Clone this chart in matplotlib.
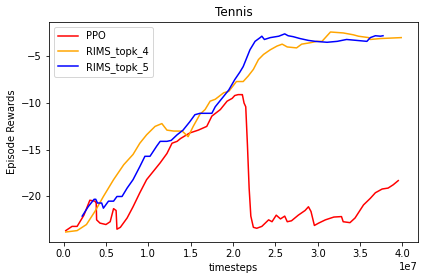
import numpy as np
import matplotlib
matplotlib.use("Agg")
import matplotlib.pyplot as plt

# timesteps in units of 1e7, rewards
ppo_x = [0.026, 0.10, 0.16, 0.24, 0.31, 0.37, 0.385, 0.39, 0.43, 0.50, 0.55, 0.59, 0.62, 0.625, 0.63,
         0.67, 0.75, 0.82, 0.90, 0.98, 1.06, 1.14, 1.22, 1.28, 1.34, 1.38, 1.49, 1.59, 1.69,
         1.75, 1.85, 1.93, 1.99, 2.02, 2.06, 2.10, 2.11, 2.13, 2.15, 2.17, 2.19, 2.21, 2.24, 2.28,
         2.34, 2.42, 2.46, 2.51, 2.56, 2.61, 2.64, 2.69, 2.77, 2.85, 2.89, 2.92, 2.96, 3.01,
         3.09, 3.19, 3.28, 3.30, 3.38, 3.44, 3.54, 3.62, 3.68, 3.76, 3.83, 3.89, 3.95]
ppo_y = [-23.65, -23.2, -23.2, -22.0, -20.4, -20.5, -20.7, -22.5, -22.85, -23.0, -22.7, -21.3, -21.5, -22.5, -23.5,
         -23.3, -22.3, -21.1, -19.6, -18.2, -17.3, -16.4, -15.4, -14.3, -14.1, -13.8, -13.2, -12.9, -12.5,
         -11.4, -10.7, -9.8, -9.5, -9.2, -9.1, -9.1, -9.1, -10.0, -10.4, -14.5, -19.1, -22.1, -23.3, -23.4,
         -23.2, -22.5, -22.7, -22.0, -22.4, -22.1, -22.7, -22.6, -22.0, -21.5, -21.1, -21.6, -23.1, -22.85,
         -22.5, -22.2, -22.15, -22.7, -22.8, -22.3, -20.9, -20.2, -19.6, -19.2, -19.1, -18.75, -18.3]

topk4_x = [0.026, 0.16, 0.27, 0.37, 0.47, 0.59, 0.71, 0.82, 0.90, 0.98, 1.08, 1.16, 1.22, 1.30,
           1.40, 1.47, 1.53, 1.61, 1.67, 1.73, 1.79, 1.89, 1.95, 2.04, 2.12, 2.18, 2.24, 2.30, 2.36,
           2.44, 2.52, 2.58, 2.64, 2.75, 2.81, 2.91, 2.99, 3.05, 3.15, 3.30, 3.42, 3.48, 3.60, 3.62,
           3.74, 3.985]
topk4_y = [-23.8, -23.65, -23.0, -21.6, -20.0, -18.2, -16.6, -15.5, -14.3, -13.4, -12.5, -12.2, -12.9, -13.0,
           -13.0, -13.6, -12.5, -11.2, -10.7, -9.8, -9.6, -8.9, -8.75, -7.7, -7.7, -7.1, -6.4, -5.35, -4.8,
           -4.3, -3.9, -3.7, -4.0, -4.1, -3.7, -3.55, -3.4, -3.4, -2.4, -2.5, -2.7, -2.85, -3.0, -3.2,
           -3.1, -3.0]

topk5_x = [0.22, 0.29, 0.36, 0.38, 0.40, 0.45, 0.47, 0.53, 0.59, 0.63, 0.69, 0.75, 0.82, 0.90,
           0.96, 1.02, 1.10, 1.14, 1.22, 1.27, 1.34, 1.41, 1.49, 1.55, 1.61, 1.69, 1.75, 1.79,
           1.87, 1.95, 2.02, 2.08, 2.12, 2.20, 2.26, 2.32, 2.34, 2.37, 2.44, 2.54, 2.61, 2.65,
           2.71, 2.79, 2.89, 2.97, 3.11, 3.23, 3.34, 3.46, 3.58, 3.62, 3.68, 3.74, 3.77]
topk5_y = [-22.1, -21.1, -20.3, -20.3, -20.7, -20.7, -21.25, -20.5, -20.5, -20.0, -20.0, -19.1, -18.2, -16.8,
           -15.7, -15.7, -14.6, -14.1, -14.1, -14.0, -13.4, -12.9, -12.0, -11.25, -11.1, -11.1, -11.1, -10.4,
           -9.5, -8.6, -7.5, -6.7, -6.1, -4.3, -3.4, -3.0, -2.85, -3.2, -3.0, -2.85, -2.6, -2.8,
           -2.9, -3.1, -3.3, -3.4, -3.5, -3.4, -3.2, -3.3, -3.4, -3.0, -2.8, -2.85, -2.8]

fig = plt.figure(figsize=(424 / 72, 280 / 72), dpi=72)
ax = fig.add_axes([49 / 424, 1 - 242 / 280, 369 / 424, 220 / 280])

ax.plot(np.array(ppo_x) * 1e7, ppo_y, color="red", label="PPO")
ax.plot(np.array(topk4_x) * 1e7, topk4_y, color="orange", label="RIMS_topk_4")
ax.plot(np.array(topk5_x) * 1e7, topk5_y, color="blue", label="RIMS_topk_5")

ax.set_yticks([-20, -15, -10, -5])
ax.set_title("Tennis")
ax.set_xlabel("timesteps")
ax.set_ylabel("Episode Rewards")
ax.legend(loc="upper left")

fig.savefig("out.png", dpi=72)
